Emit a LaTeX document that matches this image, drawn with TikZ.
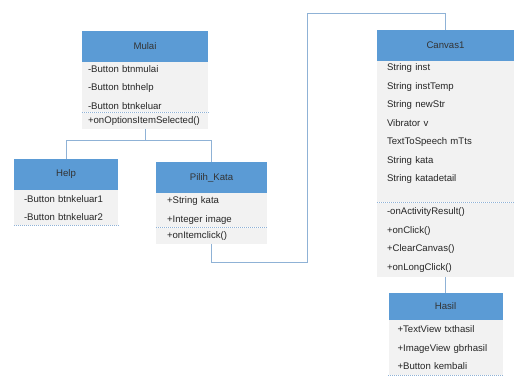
\documentclass[tikz,border=0pt]{standalone}
\usepackage{fontspec}
\setmainfont{Liberation Sans}
\usetikzlibrary{positioning}
\usetikzlibrary{arrows}
\definecolor{headblue}{RGB}{91,155,213}
\definecolor{bodygray}{RGB}{242,242,242}
\definecolor{linkblue}{RGB}{143,178,214}
\tikzstyle{line} = [draw, linkblue, line width=0.8pt]

\begin{document}
\begin{tikzpicture}[x=1pt, y=-1pt, node distance=0pt]

				\tikzstyle{kelas} = [rectangle, fill=headblue, text=black!80, minimum height=31pt, inner sep=0pt, font=\fontsize{9.6}{11}\selectfont]
				\tikzstyle{isi} = [rectangle, fill=bodygray, text=black!85, align=left, inner ysep=0pt, font=\fontsize{9.6}{18.5}\selectfont]
				\tikzstyle{garis} = [draw, linkblue, line width=0.6pt, dash pattern=on 1pt off 1pt]

				\fill [white] (0,0) rectangle (514,379);
				\useasboundingbox (0,0) rectangle (514,379);

				% Place nodes
				\node [kelas, minimum width=126pt] (mulai) at (145,46.5) {Mulai};
				\node [isi, below=of mulai, minimum width=126pt, text width=114pt, inner xsep=6pt, minimum height=50pt] (mulai_atr) {-Button btnmulai\\ -Button btnhelp\\ -Button btnkeluar};
				\node [isi, below=of mulai_atr, minimum width=126pt, text width=114pt, inner xsep=6pt, minimum height=16pt] (mulai_met) {+onOptionsItemSelected()};

				\node [kelas, minimum width=104pt] (help) at (66,174.5) {Help};
				\node [isi, below=of help, minimum width=104pt, text width=84pt, inner xsep=10pt, minimum height=35pt] (help_atr) {-Button btnkeluar1\\ -Button btnkeluar2};

				\node [kelas, minimum width=111pt] (pilih) at (211.5,177.5) {Pilih\_Kata};
				\node [isi, below=of pilih, minimum width=111pt, text width=89pt, inner xsep=11pt, minimum height=34pt] (pilih_atr) {+String kata\\ +Integer image};
				\node [isi, below=of pilih_atr, minimum width=111pt, text width=89pt, inner xsep=11pt, minimum height=16pt] (pilih_met) {+onItemclick()};

				\node [kelas, minimum width=137pt] (canvas) at (445.5,45.5) {Canvas1};
				\node [isi, below=of canvas, minimum width=137pt, text width=117pt, inner xsep=10pt, minimum height=141pt] (canvas_atr) {String inst\\ String instTemp\\ String newStr\\ Vibrator v\\ TextToSpeech mTts\\ String kata\\ String katadetail\\ ~};
				\node [isi, below=of canvas_atr, minimum width=137pt, text width=117pt, inner xsep=10pt, minimum height=74pt] (canvas_met) {-onActivityResult()\\ +onClick()\\ +ClearCanvas()\\ +onLongClick()};

				\node [kelas, minimum width=114pt, minimum height=27pt] (hasil) at (445.5,306.5) {Hasil};
				\node [isi, below=of hasil, minimum width=114pt, text width=96pt, inner xsep=9pt, minimum height=55pt] (hasil_atr) {+TextView txthasil\\ +ImageView gbrhasil\\ +Button kembali};

				% separators
				\path [garis] (mulai_atr.south west) -- (mulai_atr.south east);
				\path [garis] (help_atr.south west) -- (help_atr.south east);
				\path [garis] (pilih_atr.south west) -- (pilih_atr.south east);
				\path [garis] (canvas_atr.south west) -- (canvas_atr.south east);
				\path [garis] (hasil_atr.south west) -- (hasil_atr.south east);

				% connectors
				\coordinate (cabang) at (145,140);
				\coordinate (belok1) at (307,262);
				\coordinate (belok2) at (307,13);
				\path [line] (mulai_met.south) -- (cabang) -| (help.north);
				\path [line] (cabang) -| (pilih.north);
				\path [line] (pilih_met.south) |- (belok1) -- (belok2) -| (canvas.north);
				\path [line] (canvas_met.south) -- (hasil.north);

\end{tikzpicture}
\end{document}
